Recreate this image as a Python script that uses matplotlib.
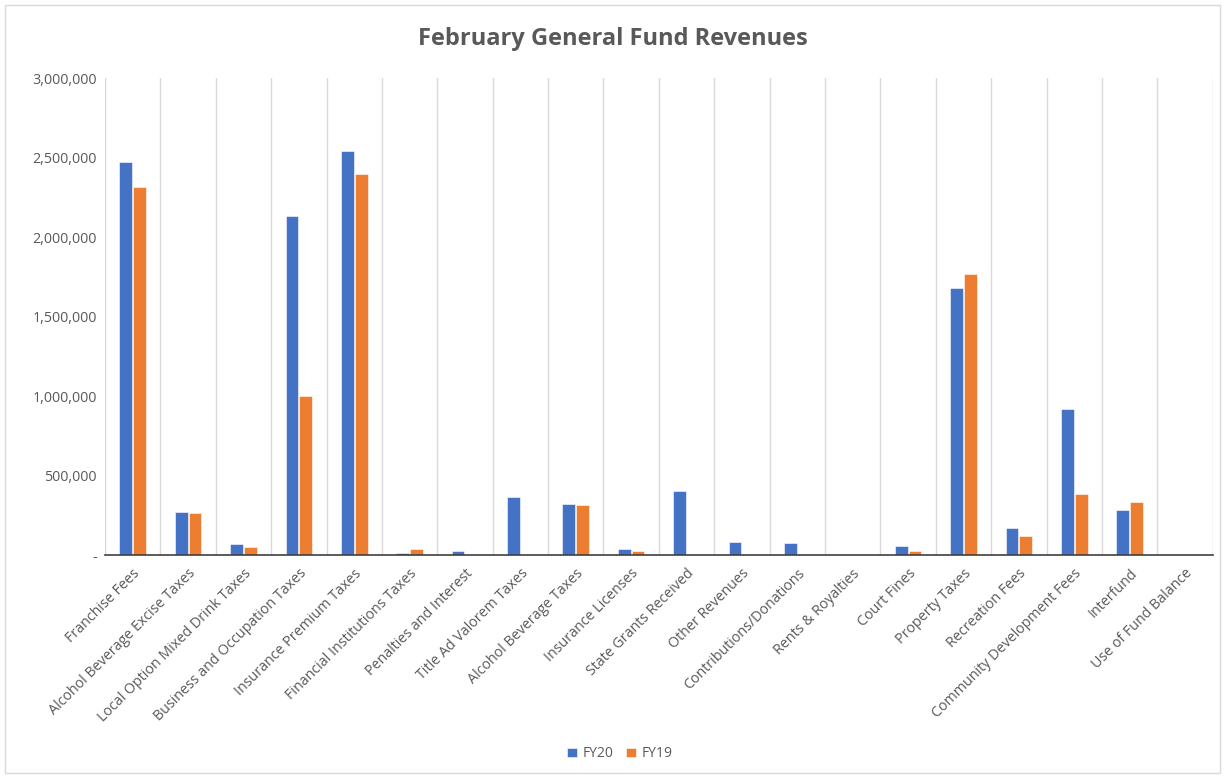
import numpy as np
import matplotlib.pyplot as plt
from matplotlib.patches import Rectangle
from matplotlib.ticker import FuncFormatter

categories = [
    "Franchise Fees", "Alcohol Beverage Excise Taxes", "Local Option Mixed Drink Taxes",
    "Business and Occupation Taxes", "Insurance Premium Taxes", "Financial Institutions Taxes",
    "Penalties and Interest", "Title Ad Valorem Taxes", "Alcohol Beverage Taxes",
    "Insurance Licenses", "State Grants Received", "Other Revenues",
    "Contributions/Donations", "Rents & Royalties", "Court Fines", "Property Taxes",
    "Recreation Fees", "Community Development Fees", "Interfund", "Use of Fund Balance",
]
fy20 = [2471000, 270000, 67000, 2132000, 2541000, 12000, 27000, 363000, 323000, 38000,
        402000, 82000, 73000, 3000, 57000, 1679000, 170000, 918000, 281000, 0]
fy19 = [2314000, 266000, 52000, 1000000, 2396000, 40000, 2000, 0, 314000, 27000,
        0, 0, 0, 0, 27000, 1767000, 119000, 384000, 333000, 0]

plt.rcParams['font.family'] = ['Open Sans', 'DejaVu Sans']
text_color = "#595959"

fig = plt.figure(figsize=(12.25, 7.78), dpi=100)
ax = fig.add_axes([0.0857, 0.2866, 0.9043, 0.6131])

x = np.arange(len(categories))
w = 0.23
ax.bar(x - 0.125, fy20, width=w, color="#4472C4", edgecolor="white", linewidth=0.4, label="FY20", zorder=3)
ax.bar(x + 0.125, fy19, width=w, color="#ED7D31", edgecolor="white", linewidth=0.4, label="FY19", zorder=3)

ax.set_xlim(-0.5, len(categories) - 0.5)
ax.set_ylim(0, 3000000)
ax.set_yticks(np.arange(0, 3000001, 500000))
ax.yaxis.set_major_formatter(FuncFormatter(lambda v, p: "-" if v == 0 else f"{int(v):,}"))

# vertical gridlines between categories
for b in np.arange(-0.5, len(categories) + 0.5, 1):
    ax.axvline(b, color="#D9D9D9", linewidth=1, zorder=1)

ax.set_xticks(x)
ax.set_xticklabels(categories, rotation=45, ha="right", rotation_mode="anchor")
ax.tick_params(axis="both", length=0, colors=text_color, labelsize=10.3)
ax.tick_params(axis="x", pad=8)
ax.tick_params(axis="y", pad=6)

for s in ["top", "right", "left"]:
    ax.spines[s].set_visible(False)
ax.spines["bottom"].set_color("#404040")
ax.spines["bottom"].set_linewidth(1.2)
ax.spines["bottom"].set_zorder(4)

fig.suptitle("February General Fund Revenues", y=0.965, fontsize=17, fontweight="bold", color=text_color)

fig.legend(loc="center", bbox_to_anchor=(0.506, 0.031), ncol=2, frameon=False,
           fontsize=10, labelcolor=text_color, handlelength=0.7, handleheight=0.7,
           handletextpad=0.4, columnspacing=0.9)

fig.patches.append(Rectangle((0.004, 0.006), 0.992, 0.988, transform=fig.transFigure,
                             fill=False, edgecolor="#D9D9D9", linewidth=1))

fig.savefig("out.png", dpi=100)
